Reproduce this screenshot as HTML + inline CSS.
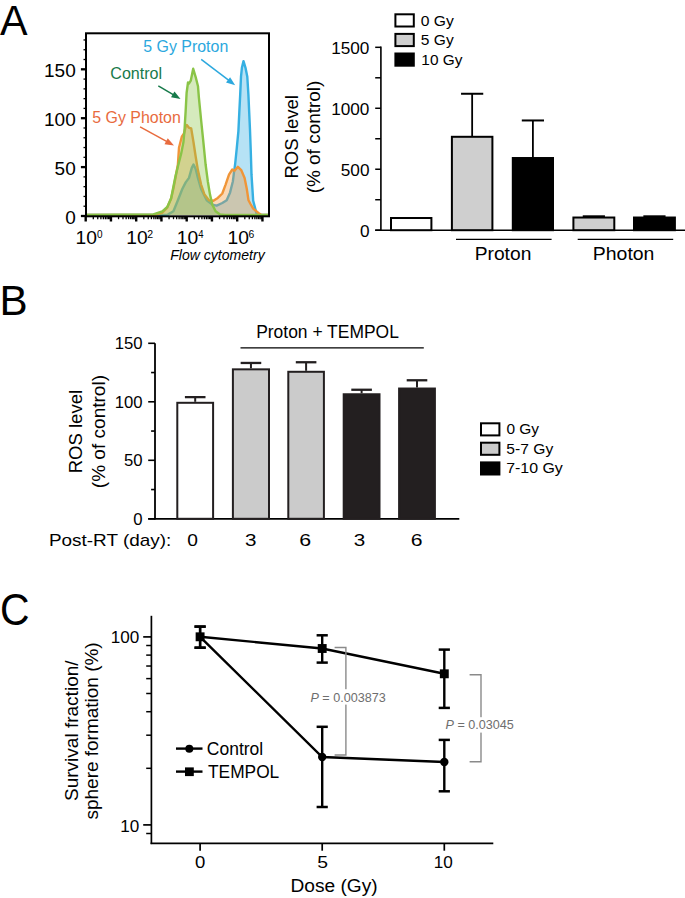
<!DOCTYPE html>
<html><head><meta charset="utf-8"><style>
html,body{margin:0;padding:0;background:#fff;}
svg{display:block;font-family:"Liberation Sans", sans-serif;}
</style></head><body>
<svg width="685" height="898" viewBox="0 0 685 898">
<rect width="685" height="898" fill="#fff"/>
<text x="-0.08" y="35.00" font-size="42.4" fill="#000" textLength="27.57" lengthAdjust="spacingAndGlyphs" >A</text>
<polygon points="86.00,215.00 160.00,214.90 167.80,214.60 173.40,211.30 177.90,200.20 182.30,189.00 185.70,182.40 189.00,177.90 191.80,167.90 193.50,164.50 195.70,169.00 197.90,177.90 201.10,189.00 206.70,200.20 212.30,204.60 216.70,205.70 222.30,203.00 226.70,200.20 230.10,192.40 232.90,181.20 234.00,172.30 235.10,164.50 236.80,147.80 238.40,131.10 239.30,112.40 240.20,94.60 241.00,76.70 241.90,67.80 243.50,61.10 245.50,67.80 247.30,76.70 248.40,94.60 249.20,112.40 250.00,130.00 250.80,152.00 251.50,174.70 253.20,200.80 255.40,209.40 256.50,213.50 259.00,215.00 268.00,215.00" fill="#36b0e2" fill-opacity="0.36" stroke="none"/>
<polyline points="86.00,215.00 160.00,214.90 167.80,214.60 173.40,211.30 177.90,200.20 182.30,189.00 185.70,182.40 189.00,177.90 191.80,167.90 193.50,164.50 195.70,169.00 197.90,177.90 201.10,189.00 206.70,200.20 212.30,204.60 216.70,205.70 222.30,203.00 226.70,200.20 230.10,192.40 232.90,181.20 234.00,172.30 235.10,164.50 236.80,147.80 238.40,131.10 239.30,112.40 240.20,94.60 241.00,76.70 241.90,67.80 243.50,61.10 245.50,67.80 247.30,76.70 248.40,94.60 249.20,112.40 250.00,130.00 250.80,152.00 251.50,174.70 253.20,200.80 255.40,209.40 256.50,213.50 259.00,215.00 268.00,215.00" fill="none" stroke="#36b0e2" stroke-width="2.4" stroke-linejoin="round"/>
<polygon points="86.00,215.00 155.00,214.90 162.00,212.80 167.00,208.00 171.00,199.00 173.50,188.00 175.80,176.00 177.90,164.50 179.00,147.80 181.80,136.70 184.00,133.40 185.70,126.70 186.80,125.00 189.00,127.80 191.20,128.40 193.50,142.30 195.70,156.70 197.90,170.10 201.10,184.60 204.50,194.60 208.90,200.20 213.40,200.70 217.80,197.90 222.30,193.50 225.60,184.60 229.00,174.60 232.30,169.50 234.50,170.70 237.90,166.80 241.20,170.10 244.60,177.90 246.80,189.00 248.50,200.20 250.50,204.00 253.20,208.60 258.40,212.90 261.50,215.00 268.00,215.00" fill="#f09538" fill-opacity="0.36" stroke="none"/>
<polyline points="86.00,215.00 155.00,214.90 162.00,212.80 167.00,208.00 171.00,199.00 173.50,188.00 175.80,176.00 177.90,164.50 179.00,147.80 181.80,136.70 184.00,133.40 185.70,126.70 186.80,125.00 189.00,127.80 191.20,128.40 193.50,142.30 195.70,156.70 197.90,170.10 201.10,184.60 204.50,194.60 208.90,200.20 213.40,200.70 217.80,197.90 222.30,193.50 225.60,184.60 229.00,174.60 232.30,169.50 234.50,170.70 237.90,166.80 241.20,170.10 244.60,177.90 246.80,189.00 248.50,200.20 250.50,204.00 253.20,208.60 258.40,212.90 261.50,215.00 268.00,215.00" fill="none" stroke="#f09538" stroke-width="2.4" stroke-linejoin="round"/>
<polygon points="86.00,215.00 153.40,214.40 162.30,211.30 167.30,206.90 171.20,198.00 173.40,186.80 175.60,175.70 178.40,164.50 181.20,153.40 183.40,142.30 184.50,130.50 185.10,120.00 185.60,111.90 186.60,93.00 188.00,82.50 188.90,83.50 190.80,80.60 193.20,68.80 195.60,76.80 198.00,86.30 198.90,97.70 200.30,111.90 201.10,120.00 203.40,142.30 205.60,164.50 207.80,181.20 210.00,194.60 212.30,204.60 215.60,211.30 220.00,214.40 225.00,215.00 268.00,215.00" fill="#8ac447" fill-opacity="0.36" stroke="none"/>
<polyline points="86.00,215.00 153.40,214.40 162.30,211.30 167.30,206.90 171.20,198.00 173.40,186.80 175.60,175.70 178.40,164.50 181.20,153.40 183.40,142.30 184.50,130.50 185.10,120.00 185.60,111.90 186.60,93.00 188.00,82.50 188.90,83.50 190.80,80.60 193.20,68.80 195.60,76.80 198.00,86.30 198.90,97.70 200.30,111.90 201.10,120.00 203.40,142.30 205.60,164.50 207.80,181.20 210.00,194.60 212.30,204.60 215.60,211.30 220.00,214.40 225.00,215.00 268.00,215.00" fill="none" stroke="#8ac447" stroke-width="2.4" stroke-linejoin="round"/>
<rect x="86" y="33.3" width="183" height="183" fill="none" stroke="#000" stroke-width="2"/>
<line x1="80.90" y1="216.00" x2="86.00" y2="216.00" stroke="#000" stroke-width="2.3" />
<line x1="83.50" y1="206.22" x2="86.00" y2="206.22" stroke="#000" stroke-width="1.3" />
<line x1="83.50" y1="196.44" x2="86.00" y2="196.44" stroke="#000" stroke-width="1.3" />
<line x1="83.50" y1="186.66" x2="86.00" y2="186.66" stroke="#000" stroke-width="1.3" />
<line x1="83.50" y1="176.88" x2="86.00" y2="176.88" stroke="#000" stroke-width="1.3" />
<line x1="80.90" y1="167.10" x2="86.00" y2="167.10" stroke="#000" stroke-width="2.3" />
<line x1="83.50" y1="157.32" x2="86.00" y2="157.32" stroke="#000" stroke-width="1.3" />
<line x1="83.50" y1="147.54" x2="86.00" y2="147.54" stroke="#000" stroke-width="1.3" />
<line x1="83.50" y1="137.76" x2="86.00" y2="137.76" stroke="#000" stroke-width="1.3" />
<line x1="83.50" y1="127.98" x2="86.00" y2="127.98" stroke="#000" stroke-width="1.3" />
<line x1="80.90" y1="118.20" x2="86.00" y2="118.20" stroke="#000" stroke-width="2.3" />
<line x1="83.50" y1="108.42" x2="86.00" y2="108.42" stroke="#000" stroke-width="1.3" />
<line x1="83.50" y1="98.64" x2="86.00" y2="98.64" stroke="#000" stroke-width="1.3" />
<line x1="83.50" y1="88.86" x2="86.00" y2="88.86" stroke="#000" stroke-width="1.3" />
<line x1="83.50" y1="79.08" x2="86.00" y2="79.08" stroke="#000" stroke-width="1.3" />
<line x1="80.90" y1="69.30" x2="86.00" y2="69.30" stroke="#000" stroke-width="2.3" />
<line x1="83.50" y1="59.52" x2="86.00" y2="59.52" stroke="#000" stroke-width="1.3" />
<line x1="83.50" y1="49.74" x2="86.00" y2="49.74" stroke="#000" stroke-width="1.3" />
<line x1="83.50" y1="39.96" x2="86.00" y2="39.96" stroke="#000" stroke-width="1.3" />
<text x="65.16" y="223.50" font-size="19.0" fill="#000" textLength="10.57" lengthAdjust="spacingAndGlyphs" >0</text>
<text x="54.59" y="174.60" font-size="19.0" fill="#000" textLength="21.13" lengthAdjust="spacingAndGlyphs" >50</text>
<text x="44.03" y="125.70" font-size="19.0" fill="#000" textLength="31.70" lengthAdjust="spacingAndGlyphs" >100</text>
<text x="44.03" y="76.80" font-size="19.0" fill="#000" textLength="31.70" lengthAdjust="spacingAndGlyphs" >150</text>
<line x1="85.70" y1="216.00" x2="85.70" y2="221.50" stroke="#000" stroke-width="2.4" />
<line x1="93.30" y1="216.00" x2="93.30" y2="219.20" stroke="#000" stroke-width="1.3" />
<line x1="97.75" y1="216.00" x2="97.75" y2="219.20" stroke="#000" stroke-width="1.3" />
<line x1="100.90" y1="216.00" x2="100.90" y2="219.20" stroke="#000" stroke-width="1.3" />
<line x1="103.35" y1="216.00" x2="103.35" y2="219.20" stroke="#000" stroke-width="1.3" />
<line x1="105.35" y1="216.00" x2="105.35" y2="219.20" stroke="#000" stroke-width="1.3" />
<line x1="107.04" y1="216.00" x2="107.04" y2="219.20" stroke="#000" stroke-width="1.3" />
<line x1="108.50" y1="216.00" x2="108.50" y2="219.20" stroke="#000" stroke-width="1.3" />
<line x1="109.79" y1="216.00" x2="109.79" y2="219.20" stroke="#000" stroke-width="1.3" />
<line x1="110.95" y1="216.00" x2="110.95" y2="221.50" stroke="#000" stroke-width="2.4" />
<line x1="118.55" y1="216.00" x2="118.55" y2="219.20" stroke="#000" stroke-width="1.3" />
<line x1="123.00" y1="216.00" x2="123.00" y2="219.20" stroke="#000" stroke-width="1.3" />
<line x1="126.15" y1="216.00" x2="126.15" y2="219.20" stroke="#000" stroke-width="1.3" />
<line x1="128.60" y1="216.00" x2="128.60" y2="219.20" stroke="#000" stroke-width="1.3" />
<line x1="130.60" y1="216.00" x2="130.60" y2="219.20" stroke="#000" stroke-width="1.3" />
<line x1="132.29" y1="216.00" x2="132.29" y2="219.20" stroke="#000" stroke-width="1.3" />
<line x1="133.75" y1="216.00" x2="133.75" y2="219.20" stroke="#000" stroke-width="1.3" />
<line x1="135.04" y1="216.00" x2="135.04" y2="219.20" stroke="#000" stroke-width="1.3" />
<line x1="136.20" y1="216.00" x2="136.20" y2="221.50" stroke="#000" stroke-width="2.4" />
<line x1="143.80" y1="216.00" x2="143.80" y2="219.20" stroke="#000" stroke-width="1.3" />
<line x1="148.25" y1="216.00" x2="148.25" y2="219.20" stroke="#000" stroke-width="1.3" />
<line x1="151.40" y1="216.00" x2="151.40" y2="219.20" stroke="#000" stroke-width="1.3" />
<line x1="153.85" y1="216.00" x2="153.85" y2="219.20" stroke="#000" stroke-width="1.3" />
<line x1="155.85" y1="216.00" x2="155.85" y2="219.20" stroke="#000" stroke-width="1.3" />
<line x1="157.54" y1="216.00" x2="157.54" y2="219.20" stroke="#000" stroke-width="1.3" />
<line x1="159.00" y1="216.00" x2="159.00" y2="219.20" stroke="#000" stroke-width="1.3" />
<line x1="160.29" y1="216.00" x2="160.29" y2="219.20" stroke="#000" stroke-width="1.3" />
<line x1="161.45" y1="216.00" x2="161.45" y2="221.50" stroke="#000" stroke-width="2.4" />
<line x1="169.05" y1="216.00" x2="169.05" y2="219.20" stroke="#000" stroke-width="1.3" />
<line x1="173.50" y1="216.00" x2="173.50" y2="219.20" stroke="#000" stroke-width="1.3" />
<line x1="176.65" y1="216.00" x2="176.65" y2="219.20" stroke="#000" stroke-width="1.3" />
<line x1="179.10" y1="216.00" x2="179.10" y2="219.20" stroke="#000" stroke-width="1.3" />
<line x1="181.10" y1="216.00" x2="181.10" y2="219.20" stroke="#000" stroke-width="1.3" />
<line x1="182.79" y1="216.00" x2="182.79" y2="219.20" stroke="#000" stroke-width="1.3" />
<line x1="184.25" y1="216.00" x2="184.25" y2="219.20" stroke="#000" stroke-width="1.3" />
<line x1="185.54" y1="216.00" x2="185.54" y2="219.20" stroke="#000" stroke-width="1.3" />
<line x1="186.70" y1="216.00" x2="186.70" y2="221.50" stroke="#000" stroke-width="2.4" />
<line x1="194.30" y1="216.00" x2="194.30" y2="219.20" stroke="#000" stroke-width="1.3" />
<line x1="198.75" y1="216.00" x2="198.75" y2="219.20" stroke="#000" stroke-width="1.3" />
<line x1="201.90" y1="216.00" x2="201.90" y2="219.20" stroke="#000" stroke-width="1.3" />
<line x1="204.35" y1="216.00" x2="204.35" y2="219.20" stroke="#000" stroke-width="1.3" />
<line x1="206.35" y1="216.00" x2="206.35" y2="219.20" stroke="#000" stroke-width="1.3" />
<line x1="208.04" y1="216.00" x2="208.04" y2="219.20" stroke="#000" stroke-width="1.3" />
<line x1="209.50" y1="216.00" x2="209.50" y2="219.20" stroke="#000" stroke-width="1.3" />
<line x1="210.79" y1="216.00" x2="210.79" y2="219.20" stroke="#000" stroke-width="1.3" />
<line x1="211.95" y1="216.00" x2="211.95" y2="221.50" stroke="#000" stroke-width="2.4" />
<line x1="219.55" y1="216.00" x2="219.55" y2="219.20" stroke="#000" stroke-width="1.3" />
<line x1="224.00" y1="216.00" x2="224.00" y2="219.20" stroke="#000" stroke-width="1.3" />
<line x1="227.15" y1="216.00" x2="227.15" y2="219.20" stroke="#000" stroke-width="1.3" />
<line x1="229.60" y1="216.00" x2="229.60" y2="219.20" stroke="#000" stroke-width="1.3" />
<line x1="231.60" y1="216.00" x2="231.60" y2="219.20" stroke="#000" stroke-width="1.3" />
<line x1="233.29" y1="216.00" x2="233.29" y2="219.20" stroke="#000" stroke-width="1.3" />
<line x1="234.75" y1="216.00" x2="234.75" y2="219.20" stroke="#000" stroke-width="1.3" />
<line x1="236.04" y1="216.00" x2="236.04" y2="219.20" stroke="#000" stroke-width="1.3" />
<line x1="237.20" y1="216.00" x2="237.20" y2="221.50" stroke="#000" stroke-width="2.4" />
<line x1="244.80" y1="216.00" x2="244.80" y2="219.20" stroke="#000" stroke-width="1.3" />
<line x1="249.25" y1="216.00" x2="249.25" y2="219.20" stroke="#000" stroke-width="1.3" />
<line x1="252.40" y1="216.00" x2="252.40" y2="219.20" stroke="#000" stroke-width="1.3" />
<line x1="254.85" y1="216.00" x2="254.85" y2="219.20" stroke="#000" stroke-width="1.3" />
<line x1="256.85" y1="216.00" x2="256.85" y2="219.20" stroke="#000" stroke-width="1.3" />
<line x1="258.54" y1="216.00" x2="258.54" y2="219.20" stroke="#000" stroke-width="1.3" />
<line x1="260.00" y1="216.00" x2="260.00" y2="219.20" stroke="#000" stroke-width="1.3" />
<line x1="261.29" y1="216.00" x2="261.29" y2="219.20" stroke="#000" stroke-width="1.3" />
<line x1="262.45" y1="216.00" x2="262.45" y2="221.50" stroke="#000" stroke-width="2.4" />
<text x="75.64" y="244.40" font-size="19.1" fill="#000" textLength="21.40" lengthAdjust="spacingAndGlyphs" >10</text>
<text x="96.91" y="238.20" font-size="10.9" fill="#000" textLength="5.57" lengthAdjust="spacingAndGlyphs" >0</text>
<text x="126.24" y="244.40" font-size="19.1" fill="#000" textLength="21.40" lengthAdjust="spacingAndGlyphs" >10</text>
<text x="147.37" y="238.20" font-size="10.9" fill="#000" textLength="5.85" lengthAdjust="spacingAndGlyphs" >2</text>
<text x="176.84" y="244.40" font-size="19.1" fill="#000" textLength="21.40" lengthAdjust="spacingAndGlyphs" >10</text>
<text x="198.29" y="238.20" font-size="10.9" fill="#000" textLength="5.29" lengthAdjust="spacingAndGlyphs" >4</text>
<text x="227.44" y="244.40" font-size="19.1" fill="#000" textLength="21.40" lengthAdjust="spacingAndGlyphs" >10</text>
<text x="248.58" y="238.20" font-size="10.9" fill="#000" textLength="5.77" lengthAdjust="spacingAndGlyphs" >6</text>
<text x="170.18" y="260.40" font-size="14.0" fill="#000" textLength="94.51" lengthAdjust="spacingAndGlyphs" font-style="italic" >Flow cytometry</text>
<text x="143.16" y="51.70" font-size="16.2" fill="#2ca8de" textLength="85.16" lengthAdjust="spacingAndGlyphs" >5 Gy Proton</text>
<text x="110.30" y="78.80" font-size="16.2" fill="#177a4a" textLength="51.77" lengthAdjust="spacingAndGlyphs" >Control</text>
<text x="92.26" y="122.50" font-size="16.2" fill="#e86b3e" textLength="88.56" lengthAdjust="spacingAndGlyphs" >5 Gy Photon</text>
<line x1="201.20" y1="59.30" x2="228.85" y2="80.44" stroke="#2ca8de" stroke-width="1.5" />
<polygon points="235.20,85.30 225.99,82.53 230.12,77.13" fill="#2ca8de"/>
<line x1="158.30" y1="85.80" x2="173.62" y2="94.91" stroke="#177a4a" stroke-width="1.5" />
<polygon points="180.50,99.00 171.03,97.32 174.50,91.48" fill="#177a4a"/>
<line x1="140.10" y1="126.80" x2="167.00" y2="141.64" stroke="#e86b3e" stroke-width="1.5" />
<polygon points="174.00,145.50 164.48,144.13 167.76,138.18" fill="#e86b3e"/>
<line x1="380.90" y1="46.50" x2="380.90" y2="231.00" stroke="#000" stroke-width="1.6" />
<line x1="375.20" y1="230.20" x2="685.00" y2="230.20" stroke="#000" stroke-width="1.6" />
<line x1="375.20" y1="230.20" x2="380.90" y2="230.20" stroke="#000" stroke-width="1.5" />
<line x1="375.20" y1="199.72" x2="380.90" y2="199.72" stroke="#000" stroke-width="1.5" />
<line x1="375.20" y1="169.23" x2="380.90" y2="169.23" stroke="#000" stroke-width="1.5" />
<line x1="375.20" y1="138.75" x2="380.90" y2="138.75" stroke="#000" stroke-width="1.5" />
<line x1="375.20" y1="108.27" x2="380.90" y2="108.27" stroke="#000" stroke-width="1.5" />
<line x1="375.20" y1="77.79" x2="380.90" y2="77.79" stroke="#000" stroke-width="1.5" />
<line x1="375.20" y1="47.31" x2="380.90" y2="47.31" stroke="#000" stroke-width="1.5" />
<text x="359.89" y="236.80" font-size="17.2" fill="#000" textLength="9.57" lengthAdjust="spacingAndGlyphs" >0</text>
<text x="340.76" y="175.83" font-size="17.2" fill="#000" textLength="28.70" lengthAdjust="spacingAndGlyphs" >500</text>
<text x="331.20" y="114.87" font-size="17.2" fill="#000" textLength="38.26" lengthAdjust="spacingAndGlyphs" >1000</text>
<text x="331.20" y="53.91" font-size="17.2" fill="#000" textLength="38.26" lengthAdjust="spacingAndGlyphs" >1500</text>
<text transform="translate(297.70,177.00) rotate(-90)" x="-1.52" y="0" font-size="19.0" fill="#000" textLength="83.45" lengthAdjust="spacingAndGlyphs">ROS level</text>
<text transform="translate(320.40,192.20) rotate(-90)" x="-1.18" y="0" font-size="19.0" fill="#000" textLength="112.76" lengthAdjust="spacingAndGlyphs">(% of control)</text>
<rect x="391.00" y="218.01" width="40.40" height="12.19" fill="#fff" stroke="#000" stroke-width="2"/>
<line x1="472.15" y1="93.76" x2="472.15" y2="136.80" stroke="#000" stroke-width="1.8" />
<line x1="461.05" y1="93.76" x2="483.25" y2="93.76" stroke="#000" stroke-width="2.0" />
<rect x="451.90" y="136.80" width="40.50" height="93.40" fill="#cfcfcf" stroke="#000" stroke-width="2"/>
<line x1="532.90" y1="120.46" x2="532.90" y2="158.02" stroke="#000" stroke-width="1.8" />
<line x1="521.80" y1="120.46" x2="544.00" y2="120.46" stroke="#000" stroke-width="2.0" />
<rect x="512.80" y="158.02" width="40.20" height="72.18" fill="#000" stroke="#000" stroke-width="2"/>
<line x1="593.85" y1="216.30" x2="593.85" y2="217.52" stroke="#000" stroke-width="1.8" />
<line x1="582.75" y1="216.30" x2="604.95" y2="216.30" stroke="#000" stroke-width="2.0" />
<rect x="573.40" y="217.52" width="40.90" height="12.68" fill="#cfcfcf" stroke="#000" stroke-width="2"/>
<line x1="654.45" y1="216.30" x2="654.45" y2="217.52" stroke="#000" stroke-width="1.8" />
<line x1="643.35" y1="216.30" x2="665.55" y2="216.30" stroke="#000" stroke-width="2.0" />
<rect x="634.00" y="217.52" width="40.90" height="12.68" fill="#000" stroke="#000" stroke-width="2"/>
<line x1="456.00" y1="239.40" x2="551.60" y2="239.40" stroke="#000" stroke-width="1.4" />
<line x1="577.70" y1="239.40" x2="673.20" y2="239.40" stroke="#000" stroke-width="1.4" />
<text x="474.72" y="259.80" font-size="18.9" fill="#000" textLength="56.61" lengthAdjust="spacingAndGlyphs" >Proton</text>
<text x="592.81" y="259.90" font-size="19.0" fill="#000" textLength="61.65" lengthAdjust="spacingAndGlyphs" >Photon</text>
<rect x="395.40" y="14.30" width="18.4" height="12.2" fill="#fff" stroke="#000" stroke-width="2"/>
<text x="420.69" y="25.80" font-size="15.2" fill="#000" textLength="33.04" lengthAdjust="spacingAndGlyphs" >0 Gy</text>
<rect x="395.40" y="33.90" width="18.4" height="12.2" fill="#cfcfcf" stroke="#000" stroke-width="2"/>
<text x="420.88" y="45.40" font-size="15.2" fill="#000" textLength="32.85" lengthAdjust="spacingAndGlyphs" >5 Gy</text>
<rect x="395.40" y="53.50" width="18.4" height="12.2" fill="#000" stroke="#000" stroke-width="2"/>
<text x="421.33" y="64.60" font-size="15.2" fill="#000" textLength="41.10" lengthAdjust="spacingAndGlyphs" >10 Gy</text>
<text x="-0.56" y="315.30" font-size="42.9" fill="#000" textLength="28.16" lengthAdjust="spacingAndGlyphs" >B</text>
<line x1="155.00" y1="343.30" x2="155.00" y2="519.60" stroke="#000" stroke-width="1.8" />
<line x1="148.20" y1="518.80" x2="459.30" y2="518.80" stroke="#000" stroke-width="1.8" />
<line x1="148.20" y1="518.80" x2="155.00" y2="518.80" stroke="#000" stroke-width="1.6" />
<line x1="151.10" y1="489.55" x2="155.00" y2="489.55" stroke="#000" stroke-width="1.6" />
<line x1="148.20" y1="460.30" x2="155.00" y2="460.30" stroke="#000" stroke-width="1.6" />
<line x1="151.10" y1="431.05" x2="155.00" y2="431.05" stroke="#000" stroke-width="1.6" />
<line x1="148.20" y1="401.80" x2="155.00" y2="401.80" stroke="#000" stroke-width="1.6" />
<line x1="151.10" y1="372.55" x2="155.00" y2="372.55" stroke="#000" stroke-width="1.6" />
<line x1="148.20" y1="343.30" x2="155.00" y2="343.30" stroke="#000" stroke-width="1.6" />
<text x="133.35" y="524.60" font-size="16.7" fill="#000" textLength="9.29" lengthAdjust="spacingAndGlyphs" >0</text>
<text x="124.06" y="466.10" font-size="16.7" fill="#000" textLength="18.58" lengthAdjust="spacingAndGlyphs" >50</text>
<text x="114.78" y="407.60" font-size="16.7" fill="#000" textLength="27.86" lengthAdjust="spacingAndGlyphs" >100</text>
<text x="114.78" y="349.10" font-size="16.7" fill="#000" textLength="27.86" lengthAdjust="spacingAndGlyphs" >150</text>
<text transform="translate(81.80,471.80) rotate(-90)" x="-1.52" y="0" font-size="19.0" fill="#000" textLength="83.45" lengthAdjust="spacingAndGlyphs">ROS level</text>
<text transform="translate(104.80,487.00) rotate(-90)" x="-1.18" y="0" font-size="19.0" fill="#000" textLength="113.17" lengthAdjust="spacingAndGlyphs">(% of control)</text>
<line x1="195.20" y1="397.12" x2="195.20" y2="401.80" stroke="#231f20" stroke-width="2.0" />
<line x1="184.90" y1="397.12" x2="205.50" y2="397.12" stroke="#231f20" stroke-width="2.3" />
<rect x="177.30" y="402.80" width="35.80" height="116.00" fill="#fff" stroke="#231f20" stroke-width="2"/>
<line x1="250.95" y1="362.96" x2="250.95" y2="368.34" stroke="#231f20" stroke-width="2.0" />
<line x1="240.65" y1="362.96" x2="261.25" y2="362.96" stroke="#231f20" stroke-width="2.3" />
<rect x="232.90" y="369.34" width="36.10" height="149.46" fill="#cbcbcb" stroke="#231f20" stroke-width="2"/>
<line x1="306.10" y1="362.25" x2="306.10" y2="370.79" stroke="#231f20" stroke-width="2.0" />
<line x1="295.80" y1="362.25" x2="316.40" y2="362.25" stroke="#231f20" stroke-width="2.3" />
<rect x="288.30" y="371.79" width="35.60" height="147.00" fill="#cbcbcb" stroke="#231f20" stroke-width="2"/>
<line x1="361.60" y1="389.75" x2="361.60" y2="393.26" stroke="#231f20" stroke-width="2.0" />
<line x1="351.30" y1="389.75" x2="371.90" y2="389.75" stroke="#231f20" stroke-width="2.3" />
<rect x="343.70" y="394.26" width="35.80" height="124.54" fill="#231f20" stroke="#231f20" stroke-width="2"/>
<line x1="417.00" y1="380.27" x2="417.00" y2="387.53" stroke="#231f20" stroke-width="2.0" />
<line x1="406.70" y1="380.27" x2="427.30" y2="380.27" stroke="#231f20" stroke-width="2.3" />
<rect x="399.10" y="388.53" width="35.80" height="130.27" fill="#231f20" stroke="#231f20" stroke-width="2"/>
<line x1="240.50" y1="347.90" x2="423.80" y2="347.90" stroke="#000" stroke-width="1.4" />
<text x="256.17" y="337.90" font-size="17.7" fill="#000" textLength="142.70" lengthAdjust="spacingAndGlyphs" >Proton + TEMPOL</text>
<text x="48.95" y="545.60" font-size="17.0" fill="#000" textLength="122.37" lengthAdjust="spacingAndGlyphs" >Post-RT (day):</text>
<text x="187.25" y="545.60" font-size="16.6" fill="#000" textLength="10.68" lengthAdjust="spacingAndGlyphs" >0</text>
<text x="244.92" y="545.60" font-size="16.6" fill="#000" textLength="11.47" lengthAdjust="spacingAndGlyphs" >3</text>
<text x="299.33" y="545.60" font-size="16.6" fill="#000" textLength="11.89" lengthAdjust="spacingAndGlyphs" >6</text>
<text x="353.72" y="545.60" font-size="16.6" fill="#000" textLength="11.47" lengthAdjust="spacingAndGlyphs" >3</text>
<text x="410.74" y="545.60" font-size="16.6" fill="#000" textLength="11.77" lengthAdjust="spacingAndGlyphs" >6</text>
<rect x="481" y="423.30" width="18.4" height="12.1" fill="#fff" stroke="#000" stroke-width="2"/>
<text x="506.40" y="434.40" font-size="15.4" fill="#000" textLength="32.63" lengthAdjust="spacingAndGlyphs" >0 Gy</text>
<rect x="481" y="442.70" width="18.4" height="12.1" fill="#cbcbcb" stroke="#000" stroke-width="2"/>
<text x="506.38" y="453.70" font-size="15.4" fill="#000" textLength="46.86" lengthAdjust="spacingAndGlyphs" >5-7 Gy</text>
<rect x="481" y="462.40" width="18.4" height="12.1" fill="#000" stroke="#000" stroke-width="2"/>
<text x="506.19" y="473.10" font-size="15.4" fill="#000" textLength="56.65" lengthAdjust="spacingAndGlyphs" >7-10 Gy</text>
<text x="-0.05" y="624.60" font-size="44.4" fill="#000" textLength="29.57" lengthAdjust="spacingAndGlyphs" >C</text>
<line x1="151.40" y1="615.80" x2="151.40" y2="844.10" stroke="#000" stroke-width="1.7" />
<line x1="150.60" y1="843.30" x2="493.30" y2="843.30" stroke="#000" stroke-width="1.7" />
<line x1="143.20" y1="636.90" x2="151.40" y2="636.90" stroke="#000" stroke-width="1.7" />
<line x1="143.20" y1="824.90" x2="151.40" y2="824.90" stroke="#000" stroke-width="1.7" />
<line x1="146.20" y1="768.31" x2="151.40" y2="768.31" stroke="#000" stroke-width="1.5" />
<line x1="146.20" y1="735.20" x2="151.40" y2="735.20" stroke="#000" stroke-width="1.5" />
<line x1="146.20" y1="711.71" x2="151.40" y2="711.71" stroke="#000" stroke-width="1.5" />
<line x1="146.20" y1="693.49" x2="151.40" y2="693.49" stroke="#000" stroke-width="1.5" />
<line x1="146.20" y1="678.61" x2="151.40" y2="678.61" stroke="#000" stroke-width="1.5" />
<line x1="146.20" y1="666.02" x2="151.40" y2="666.02" stroke="#000" stroke-width="1.5" />
<line x1="146.20" y1="655.12" x2="151.40" y2="655.12" stroke="#000" stroke-width="1.5" />
<line x1="146.20" y1="645.50" x2="151.40" y2="645.50" stroke="#000" stroke-width="1.5" />
<line x1="146.20" y1="833.50" x2="151.40" y2="833.50" stroke="#000" stroke-width="1.5" />
<text x="110.73" y="643.10" font-size="17.1" fill="#000" textLength="28.53" lengthAdjust="spacingAndGlyphs" >100</text>
<text x="120.33" y="831.50" font-size="17.1" fill="#000" textLength="19.02" lengthAdjust="spacingAndGlyphs" >10</text>
<text transform="translate(78.00,800.20) rotate(-90)" x="-0.86" y="0" font-size="19.0" fill="#000" textLength="140.65" lengthAdjust="spacingAndGlyphs">Survival fraction/</text>
<text transform="translate(97.60,819.00) rotate(-90)" x="-0.51" y="0" font-size="19.0" fill="#000" textLength="177.19" lengthAdjust="spacingAndGlyphs">sphere formation (%)</text>
<line x1="200.10" y1="843.30" x2="200.10" y2="850.70" stroke="#000" stroke-width="1.7" />
<text x="194.98" y="867.90" font-size="16.4" fill="#000" textLength="10.33" lengthAdjust="spacingAndGlyphs" >0</text>
<line x1="322.20" y1="843.30" x2="322.20" y2="850.70" stroke="#000" stroke-width="1.7" />
<text x="317.33" y="867.90" font-size="16.4" fill="#000" textLength="10.77" lengthAdjust="spacingAndGlyphs" >5</text>
<line x1="444.30" y1="843.30" x2="444.30" y2="850.70" stroke="#000" stroke-width="1.7" />
<text x="433.70" y="867.90" font-size="16.4" fill="#000" textLength="19.06" lengthAdjust="spacingAndGlyphs" >10</text>
<text x="290.53" y="892.40" font-size="18.0" fill="#000" textLength="87.16" lengthAdjust="spacingAndGlyphs" >Dose (Gy)</text>
<polyline points="200.10,636.80 322.20,648.50 444.30,673.80" fill="none" stroke="#000" stroke-width="2.4"/>
<polyline points="200.10,636.80 322.20,757.00 444.30,762.00" fill="none" stroke="#000" stroke-width="2.4"/>
<line x1="200.10" y1="626.60" x2="200.10" y2="647.70" stroke="#000" stroke-width="2.4" />
<line x1="194.50" y1="626.60" x2="205.70" y2="626.60" stroke="#000" stroke-width="2.5" />
<line x1="194.50" y1="647.70" x2="205.70" y2="647.70" stroke="#000" stroke-width="2.5" />
<line x1="322.20" y1="635.30" x2="322.20" y2="662.60" stroke="#000" stroke-width="2.4" />
<line x1="316.60" y1="635.30" x2="327.80" y2="635.30" stroke="#000" stroke-width="2.5" />
<line x1="316.60" y1="662.60" x2="327.80" y2="662.60" stroke="#000" stroke-width="2.5" />
<line x1="444.30" y1="649.60" x2="444.30" y2="707.90" stroke="#000" stroke-width="2.4" />
<line x1="438.70" y1="649.60" x2="449.90" y2="649.60" stroke="#000" stroke-width="2.5" />
<line x1="438.70" y1="707.90" x2="449.90" y2="707.90" stroke="#000" stroke-width="2.5" />
<line x1="200.10" y1="626.60" x2="200.10" y2="647.70" stroke="#000" stroke-width="2.4" />
<line x1="194.50" y1="626.60" x2="205.70" y2="626.60" stroke="#000" stroke-width="2.5" />
<line x1="194.50" y1="647.70" x2="205.70" y2="647.70" stroke="#000" stroke-width="2.5" />
<line x1="322.20" y1="726.80" x2="322.20" y2="807.00" stroke="#000" stroke-width="2.4" />
<line x1="316.60" y1="726.80" x2="327.80" y2="726.80" stroke="#000" stroke-width="2.5" />
<line x1="316.60" y1="807.00" x2="327.80" y2="807.00" stroke="#000" stroke-width="2.5" />
<line x1="444.30" y1="739.90" x2="444.30" y2="791.30" stroke="#000" stroke-width="2.4" />
<line x1="438.70" y1="739.90" x2="449.90" y2="739.90" stroke="#000" stroke-width="2.5" />
<line x1="438.70" y1="791.30" x2="449.90" y2="791.30" stroke="#000" stroke-width="2.5" />
<rect x="195.65" y="632.35" width="8.9" height="8.9" fill="#000"/>
<rect x="317.75" y="644.05" width="8.9" height="8.9" fill="#000"/>
<rect x="439.85" y="669.35" width="8.9" height="8.9" fill="#000"/>
<circle cx="322.20" cy="757" r="4.2" fill="#000"/>
<circle cx="444.30" cy="762" r="4.2" fill="#000"/>
<polyline points="334.6,647.5 345.9,647.5 345.9,755 334.6,755" fill="none" stroke="#8a8a8a" stroke-width="1.4"/>
<polyline points="469.6,674.7 481,674.7 481,761.7 469.6,761.7" fill="none" stroke="#8a8a8a" stroke-width="1.4"/>
<rect x="309" y="689.2" width="79" height="15.4" fill="#fff"/>
<rect x="444" y="717.2" width="72" height="15.4" fill="#fff"/>
<text x="310.4" y="701.7" font-size="12.6" fill="#6e6e6e"><tspan font-style="italic">P</tspan> = 0.003873</text>
<text x="445.5" y="728.9" font-size="12.6" fill="#6e6e6e"><tspan font-style="italic">P</tspan> = 0.03045</text>
<line x1="176.00" y1="748.60" x2="202.50" y2="748.60" stroke="#000" stroke-width="2.4" />
<circle cx="189.3" cy="748.8" r="4.0" fill="#000"/>
<line x1="176.00" y1="771.60" x2="202.50" y2="771.60" stroke="#000" stroke-width="2.4" />
<rect x="185.0" y="767.4" width="8.8" height="8.7" fill="#000"/>
<text x="206.83" y="754.90" font-size="18.4" fill="#000" textLength="56.34" lengthAdjust="spacingAndGlyphs" >Control</text>
<text x="208.02" y="778.10" font-size="18.6" fill="#000" textLength="71.25" lengthAdjust="spacingAndGlyphs" >TEMPOL</text>
</svg>
</body></html>
